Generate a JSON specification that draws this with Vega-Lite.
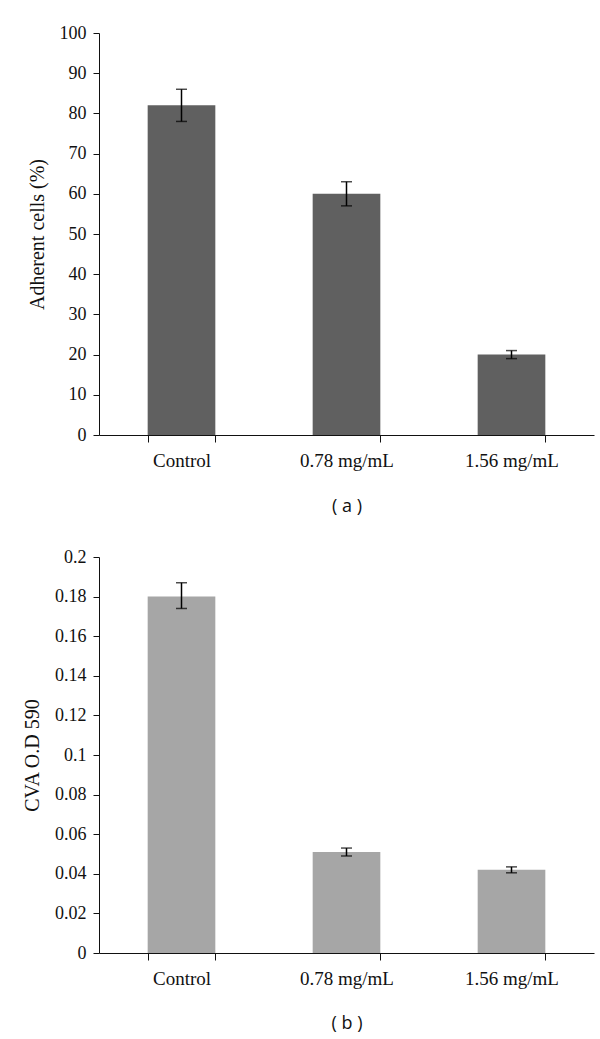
{
  "$schema": "https://vega.github.io/schema/vega-lite/v6.json",
  "background": "white",
  "padding": {"left": 22, "top": 24, "right": 5, "bottom": 5},
  "spacing": 33,
  "config": {
    "view": {"stroke": null},
    "axis": {
      "domainColor": "#111111",
      "tickColor": "#111111",
      "labelColor": "#111111",
      "titleColor": "#111111",
      "labelFont": "Liberation Serif",
      "titleFont": "Liberation Serif",
      "labelFontSize": 18,
      "titleFontSize": 20,
      "titleFontWeight": "normal",
      "labelOverlap": false,
      "grid": false,
      "tickSize": 6,
      "domainWidth": 1,
      "tickWidth": 1
    }
  },
  "vconcat": [
    {
      "width": 495,
      "height": 402,
      "data": {"values": [
        {"group": "Control", "value": 82, "lo": 78, "hi": 86},
        {"group": "0.78 mg/mL", "value": 60, "lo": 57, "hi": 63},
        {"group": "1.56 mg/mL", "value": 20, "lo": 19, "hi": 21}
      ]},
      "encoding": {
        "x": {
          "field": "group", "type": "nominal", "sort": null,
          "scale": {"paddingInner": 0.59, "paddingOuter": 0.295},
          "axis": {"title": "( a )", "titleFont": "Open Sans", "titleFontSize": 18, "titlePadding": 27, "labelAngle": 0, "labelFontSize": 19, "labelPadding": 9, "tickBand": "extent", "tickSize": 7}
        }
      },
      "layer": [
        {
          "mark": {"type": "bar", "color": "#606060"},
          "encoding": {
            "y": {"field": "value", "type": "quantitative", "scale": {"domain": [0, 100]},
              "axis": {"title": "Adherent cells (%)", "values": [0,10,20,30,40,50,60,70,80,90,100], "labelOverlap": false, "labelPadding": 7, "titlePadding": 12}}
          }
        },
        {
          "mark": {"type": "rule", "color": "#000000", "strokeWidth": 1.5},
          "encoding": {"y": {"field": "lo", "type": "quantitative",
              "axis": {"title": "Adherent cells (%)", "values": [0,10,20,30,40,50,60,70,80,90,100], "labelOverlap": false, "labelPadding": 7, "titlePadding": 12}}, "y2": {"field": "hi"}}
        },
        {
          "mark": {"type": "tick", "color": "#000000", "thickness": 1.5, "size": 11},
          "encoding": {"y": {"field": "lo", "type": "quantitative",
              "axis": {"title": "Adherent cells (%)", "values": [0,10,20,30,40,50,60,70,80,90,100], "labelOverlap": false, "labelPadding": 7, "titlePadding": 12}}}
        },
        {
          "mark": {"type": "tick", "color": "#000000", "thickness": 1.5, "size": 11},
          "encoding": {"y": {"field": "hi", "type": "quantitative",
              "axis": {"title": "Adherent cells (%)", "values": [0,10,20,30,40,50,60,70,80,90,100], "labelOverlap": false, "labelPadding": 7, "titlePadding": 12}}}
        }
      ]
    },
    {
      "width": 495,
      "height": 396,
      "data": {"values": [
        {"group": "Control", "value": 0.18, "lo": 0.174, "hi": 0.187},
        {"group": "0.78 mg/mL", "value": 0.051, "lo": 0.049, "hi": 0.053},
        {"group": "1.56 mg/mL", "value": 0.042, "lo": 0.0405, "hi": 0.0435}
      ]},
      "encoding": {
        "x": {
          "field": "group", "type": "nominal", "sort": null,
          "scale": {"paddingInner": 0.59, "paddingOuter": 0.295},
          "axis": {"title": "( b )", "titleFont": "Open Sans", "titleFontSize": 18, "titlePadding": 26, "labelAngle": 0, "labelFontSize": 19, "labelPadding": 9, "tickBand": "extent", "tickSize": 7}
        }
      },
      "layer": [
        {
          "mark": {"type": "bar", "color": "#a6a6a6"},
          "encoding": {
            "y": {"field": "value", "type": "quantitative", "scale": {"domain": [0, 0.2]},
              "axis": {"title": "CVA O.D 590", "values": [0,0.02,0.04,0.06,0.08,0.1,0.12,0.14,0.16,0.18,0.2], "format": "~g", "labelOverlap": false, "labelPadding": 7, "titlePadding": 12}}
          }
        },
        {
          "mark": {"type": "rule", "color": "#000000", "strokeWidth": 1.5},
          "encoding": {"y": {"field": "lo", "type": "quantitative",
              "axis": {"title": "CVA O.D 590", "values": [0,0.02,0.04,0.06,0.08,0.1,0.12,0.14,0.16,0.18,0.2], "format": "~g", "labelOverlap": false, "labelPadding": 7, "titlePadding": 12}}, "y2": {"field": "hi"}}
        },
        {
          "mark": {"type": "tick", "color": "#000000", "thickness": 1.5, "size": 11},
          "encoding": {"y": {"field": "lo", "type": "quantitative",
              "axis": {"title": "CVA O.D 590", "values": [0,0.02,0.04,0.06,0.08,0.1,0.12,0.14,0.16,0.18,0.2], "format": "~g", "labelOverlap": false, "labelPadding": 7, "titlePadding": 12}}}
        },
        {
          "mark": {"type": "tick", "color": "#000000", "thickness": 1.5, "size": 11},
          "encoding": {"y": {"field": "hi", "type": "quantitative",
              "axis": {"title": "CVA O.D 590", "values": [0,0.02,0.04,0.06,0.08,0.1,0.12,0.14,0.16,0.18,0.2], "format": "~g", "labelOverlap": false, "labelPadding": 7, "titlePadding": 12}}}
        }
      ]
    }
  ]
}
